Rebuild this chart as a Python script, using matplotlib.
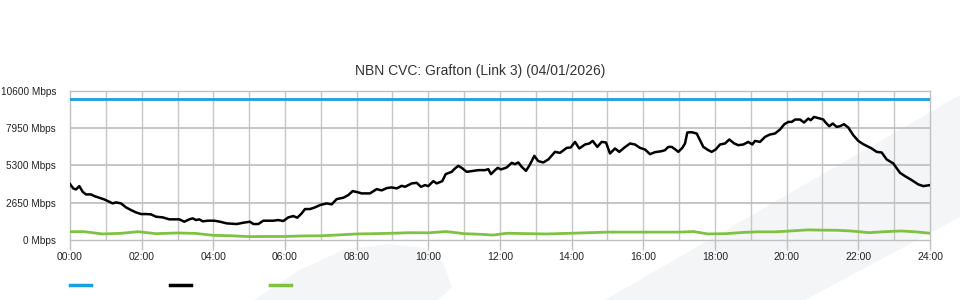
import matplotlib
matplotlib.use("Agg")
import matplotlib.pyplot as plt
from matplotlib.patches import Polygon
from matplotlib.lines import Line2D

plt.rcParams['font.family'] = ['Liberation Sans', 'DejaVu Sans']

TITLE = "NBN CVC: Grafton (Link 3) (04/01/2026)"
y_ticks = [0, 2650, 5300, 7950, 10600]
y_tick_labels = ["0 Mbps", "2650 Mbps", "5300 Mbps", "7950 Mbps", "10600 Mbps"]
x_ticks = list(range(0, 25, 2))
x_tick_labels = ["%02d:00" % h for h in x_ticks]

capacity = 10000  # blue line

# traffic (black) : x pixel positions -> hours
traffic_px = [70, 73.3, 76, 79.3, 82.7, 86, 91, 94.3, 99.3, 104.3, 109.3, 112.7, 116, 121, 126, 131,
              136, 141, 146, 151, 156, 162.7, 169.3, 179.3, 184.3, 189.3, 192.7, 196, 199.3, 202.7,
              207.7, 214.3, 220, 226.7, 236.7, 243.3, 250, 253.3, 258.3, 263.3, 273.3, 278.3, 283.3,
              288.3, 293.3, 297.3, 301.7, 305, 310, 315, 320, 326.7, 331.7, 336.7, 343.3, 348.3, 352.7,
              358.3, 361.7, 370, 376.7, 381.7, 386.7, 391.7, 396.7, 401.7, 405, 411.7, 416.7, 421, 425,
              428.3, 433.3, 436.7, 442.3, 445.7, 451.7, 455, 458.3, 461.7, 466.7, 471.7, 478.3, 485,
              488.3, 491, 494.3, 497.7, 501, 506.7, 511.7, 515, 518.3, 521.7, 526, 530, 534.3, 538.3,
              543.3, 548.3, 555, 560, 566.7, 570.7, 575, 579.3, 585, 589.3, 592.7, 597.3, 601.7, 606,
              610, 615, 619.3, 624, 630, 635, 640, 645, 650, 655, 661.7, 665, 668.3, 671.7, 675, 678.3,
              682.3, 685, 687.3, 691.7, 696.7, 700, 703.3, 708.3, 711.7, 715.7, 720, 725, 729.3, 734.3,
              738.3, 743.3, 748.3, 752.3, 755, 760, 765, 770, 775, 780, 784.3, 788.3, 791.7, 795, 800,
              804, 808.3, 810.7, 814, 820, 823.3, 826, 829.3, 832.7, 836.7, 840, 844, 848.3, 853.3,
              858.3, 863.3, 871.7, 876.7, 881.7, 886.7, 893.3, 900, 905, 911.7, 918.3, 923.3, 930]
traffic_mbps = [3968, 3660, 3590, 3826, 3420, 3236, 3236, 3118, 3000, 2880, 2715, 2600, 2670, 2600,
                2316, 2126, 1960, 1842, 1842, 1820, 1653, 1606, 1467, 1467, 1298, 1467, 1537, 1417,
                1467, 1325, 1370, 1370, 1298, 1180, 1134, 1227, 1298, 1134, 1134, 1370, 1370, 1417,
                1346, 1606, 1700, 1582, 1890, 2197, 2197, 2316, 2480, 2600, 2530, 2905, 3000, 3190,
                3472, 3380, 3309, 3309, 3614, 3520, 3685, 3734, 3663, 3848, 3777, 4017, 4060, 3777,
                3897, 3826, 4180, 4017, 4180, 4677, 4840, 5080, 5265, 5123, 4840, 4890, 4960, 4960,
                5030, 4677, 4910, 5123, 5010, 5150, 5477, 5385, 5505, 5194, 4910, 5364, 5973, 5598,
                5505, 5718, 6257, 6186, 6540, 6568, 6965, 6498, 6781, 6852, 7036, 6611, 6965, 6923,
                6143, 6498, 6257, 6540, 6852, 6781, 6540, 6427, 6094, 6236, 6307, 6377, 6611, 6611,
                6448, 6257, 6540, 6852, 7632, 7653, 7560, 7086, 6611, 6377, 6257, 6427, 6781, 6852,
                7136, 6852, 6732, 6781, 6965, 6781, 7036, 6965, 7320, 7490, 7560, 7844, 8220, 8383,
                8383, 8553, 8553, 8340, 8624, 8503, 8737, 8624, 8553, 8312, 8078, 8270, 8030, 8078,
                8220, 7986, 7440, 7036, 6802, 6498, 6257, 6214, 5718, 5435, 4770, 4535, 4252, 3947,
                3826, 3897]
traffic_hours = [(p - 70) / (860 / 24) for p in traffic_px]

# green series (hours, Mbps)
green_hours = [0, 0.4, 0.9, 1.4, 1.9, 2.4, 3.0, 3.5, 4.0, 4.5, 5.0, 5.5, 6.0, 6.5, 7.0, 7.5, 8.0,
               8.5, 9.0, 9.5, 10.0, 10.5, 11.0, 11.5, 11.8, 12.2, 12.8, 13.3, 14.0, 14.5, 15.0,
               16.0, 17.0, 17.4, 17.8, 18.3, 18.8, 19.2, 19.7, 20.1, 20.6, 21.0, 21.4, 21.8,
               22.3, 22.8, 23.2, 23.6, 24.0]
green_mbps = [590, 590, 430, 470, 590, 450, 500, 470, 330, 300, 240, 250, 250, 290, 300, 360, 430,
              450, 480, 520, 510, 600, 450, 400, 350, 480, 450, 430, 480, 520, 560, 560, 560, 600,
              430, 450, 540, 580, 580, 640, 720, 700, 690, 640, 520, 600, 640, 580, 480]

W, H = 960, 300
fig = plt.figure(figsize=(W / 100, H / 100), dpi=100)

def fx(px):
    return px / W

def fy(py):
    return 1 - py / H

# watermark shapes
band = [(605, 300), (960, 95), (960, 217), (805, 300)]
fig.patches.append(Polygon([(fx(a), fy(b)) for a, b in band], closed=True,
                           transform=fig.transFigure, facecolor='#f4f5f7', edgecolor='none', zorder=-5))
swoosh = [(254, 300), (300, 270), (345, 249), (390, 244), (425, 248), (443, 262), (452, 287), (438, 300)]
fig.patches.append(Polygon([(fx(a), fy(b)) for a, b in swoosh], closed=True,
                           transform=fig.transFigure, facecolor='#f4f5f7', edgecolor='none', zorder=-5))

ax = fig.add_axes([fx(70), fy(240), fx(930) - fx(70), fy(90.7) - fy(240)])
ax.set_zorder(2)
ax.set_facecolor('none')
ax.set_xlim(0, 24)
ax.set_ylim(0, 10600)

# grid
for h in range(1, 24):
    ax.axvline(h, color='#c6c6c6', lw=1.0, zorder=1)
for v in y_ticks[1:-1]:
    ax.axhline(v, color='#c0c0c0', lw=1.3, zorder=1)

ax.axhline(capacity, color='#1a9fe0', lw=2.0, zorder=3)
ax.plot(green_hours, green_mbps, color='#7fc241', lw=2.0, zorder=3)
ax.plot(traffic_hours, traffic_mbps, color='#000000', lw=1.8, zorder=4)

for s in ax.spines.values():
    s.set_color('#c0c0c0')
    s.set_linewidth(1.0)

ax.set_yticks(y_ticks)
ax.set_yticklabels(y_tick_labels)
ax.set_xticks(x_ticks)
ax.set_xticklabels(x_tick_labels)
ax.tick_params(axis='y', length=0, pad=10, labelsize=7.2, labelcolor='#222222')
ax.tick_params(axis='x', length=7, width=1.0, color='#c0c0c0', pad=2, labelsize=7.5,
               labelcolor='#222222')

fig.text(0.5, fy(71), TITLE, ha='center', va='center', fontsize=10, color='#333333')

# legend swatches (no labels)
for x0, c in [(70, '#1a9fe0'), (170, '#000000'), (270, '#7fc241')]:
    fig.add_artist(Line2D([fx(x0), fx(x0 + 21)], [fy(285), fy(285)], color=c, lw=2.5,
                          transform=fig.transFigure))

fig.savefig('out.png', dpi=100)
